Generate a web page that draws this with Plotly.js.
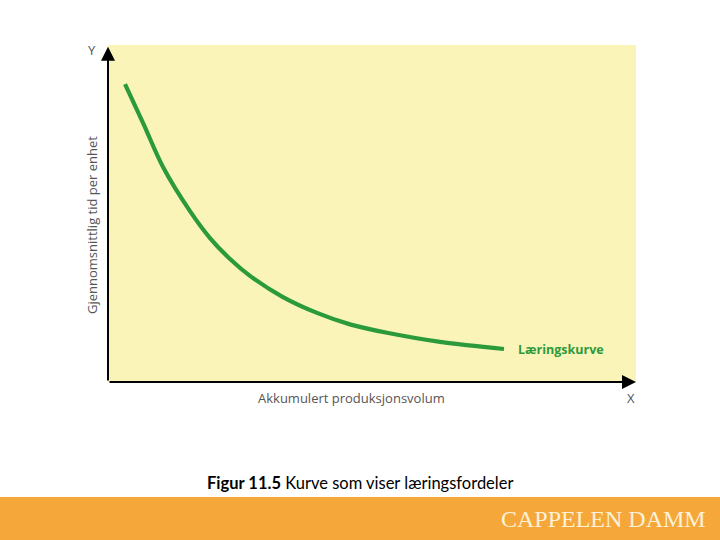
<!DOCTYPE html>
<html>
<head>
<meta charset="utf-8">
<script src="https://cdn.plot.ly/plotly-3.0.1.min.js"></script>
<style>html,body{margin:0;padding:0;background:#fff;}#chart{width:720px;height:540px;}</style>
</head>
<body>
<div id="chart"></div>
<script>
// Learning curve values (x: accumulated volume, y: avg time per unit; relative 0-100 scale)
const volume = [3.22, 6.63, 10.42, 15.53, 19.32, 23.11, 26.89, 33.14, 39.58, 45.83, 52.84, 62.88, 75.0];
const timePerUnit = [88.4, 76.9, 63.8, 50.7, 42.7, 36.5, 31.5, 25.2, 20.5, 17.1, 14.6, 11.9, 9.8];
const curveName = "Læringskurve";
const xTitle = "Akkumulert produksjonsvolum";
const yTitle = "Gjennomsnittlig tid per enhet";
const caption = "<b>Figur 11.5</b> Kurve som viser læringsfordeler";
const brand = "CAPPELEN DAMM";

const green = "#2b9a3b";
const axisText = "#555555";

const trace = {
  x: volume, y: timePerUnit, type: "scatter", mode: "lines",
  line: {color: green, width: 4.2, shape: "spline", smoothing: 1.0},
  hoverinfo: "skip", showlegend: false, cliponaxis: false
};

function txt(x, y, text, font, extra) {
  return Object.assign({x: x, y: y, xref: "paper", yref: "paper", text: text, showarrow: false,
    xanchor: "center", yanchor: "middle", font: font}, extra || {});
}

const layout = {
  width: 720, height: 540,
  margin: {l: 108, r: 84, t: 45, b: 158, pad: 0},
  paper_bgcolor: "#ffffff",
  plot_bgcolor: "#fbf4b9",
  xaxis: {range: [0, 100], showgrid: false, zeroline: false, showline: false, showticklabels: false, ticks: "", fixedrange: true},
  yaxis: {range: [0, 100], showgrid: false, zeroline: false, showline: false, showticklabels: false, ticks: "", fixedrange: true},
  showlegend: false,
  shapes: [
    {type: "rect", xref: "paper", yref: "paper", x0: -0.21, x1: 1.17, y0: -0.341, y1: -0.47, fillcolor: "#f6a73a", line: {width: 0}, layer: "above"}
  ],
  annotations: [
    // axes with arrowheads
    {x: 100, y: 0, ax: 0, ay: 0, xref: "x", yref: "y", axref: "x", ayref: "y", text: "", showarrow: true, arrowhead: 2, arrowsize: 1.4, arrowwidth: 2, arrowcolor: "#000"},
    {x: 0, y: 99.5, ax: 0, ay: 0, xref: "x", yref: "y", axref: "x", ayref: "y", text: "", showarrow: true, arrowhead: 2, arrowsize: 1.4, arrowwidth: 2, arrowcolor: "#000"},
    txt(-0.0303, 0.985, "Y", {family: "Open Sans", size: 13, color: axisText}),
    txt(0.9905, -0.0475, "X", {family: "Open Sans", size: 13, color: axisText}),
    txt(0.462, -0.0475, xTitle, {family: "Open Sans", size: 13, color: axisText}),
    txt(-0.0303, 0.466, yTitle, {family: "Open Sans", size: 13, color: axisText}, {textangle: -90}),
    {x: 77.3, y: 9.5, xref: "x", yref: "y", xanchor: "left", yanchor: "middle", text: "<b>" + curveName + "</b>", showarrow: false, font: {family: "Open Sans", size: 12.5, color: green}},
    txt(0.477, -0.2997, caption, {family: "Lato", size: 16.5, color: "#000"}),
    txt(0.9375, -0.4065, brand, {family: "Liberation Serif", size: 24, color: "#fdf1d8"})
  ]
};

Plotly.newPlot("chart", [trace], layout, {staticPlot: true, displayModeBar: false});
</script>
</body>
</html>
